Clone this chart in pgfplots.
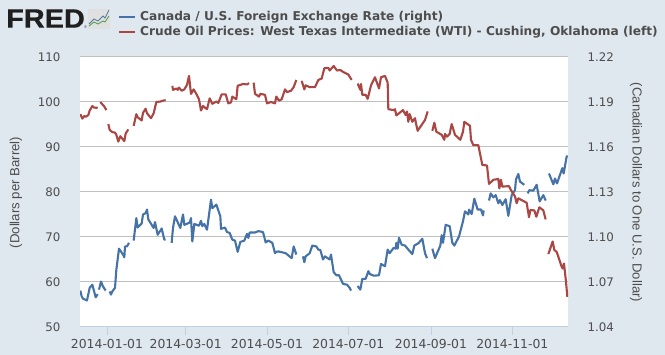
\documentclass[border=0pt]{standalone}
\usepackage{pgfplots}
\pgfplotsset{compat=1.18}
\usepackage{fontspec}
\setmainfont{DejaVu Sans}
\newfontfamily\labfont{Liberation Sans}
\newfontfamily\logofont[FakeBold=0.6]{Liberation Sans Bold}
\definecolor{bg}{HTML}{DFE7EF}
\definecolor{bluel}{HTML}{4572A7}
\definecolor{redl}{HTML}{AA4643}
\definecolor{txt}{HTML}{4D4D4D}
\definecolor{gridc}{HTML}{C0C0C0}
\definecolor{axc}{HTML}{C0D0E0}
\begin{document}
\begin{tikzpicture}[x=1pt,y=1pt]
\useasboundingbox (0,0) rectangle (665,355);
\fill[bg] (0,0) rectangle (665,355);
\begin{scope}[x=1pt,y=-1pt,shift={(0pt,355pt)}]
\node[anchor=west,inner sep=0pt,font=\logofont\fontsize{26.5}{26.5}\selectfont,text=black!88,xscale=1.09] at (6,18.5) {FRED};
\node[anchor=west,inner sep=0pt,font=\labfont\fontsize{4}{4}\selectfont,text=black!70] at (84,27) {®};
\fill[black!12] (88,9) rectangle (110,29);
\draw[bluel!70!gray,line width=0.8pt] (89,24) -- (94,19) -- (98,21) -- (103,16) -- (105,18) -- (109,10);
\draw[green!45!black!70,line width=0.8pt] (89,26) -- (94,22) -- (98,24) -- (103,21) -- (105,22) -- (109,16);
\draw[bluel,line width=2pt] (119,17) -- (135,17);
\draw[redl,line width=2pt] (119,32) -- (135,32);
\node[anchor=base west,inner sep=0pt,text=txt,font=\bfseries\fontsize{12.18}{12}\selectfont] at (140,21) {Canada / U.S. Foreign Exchange Rate (right)};
\node[anchor=base west,inner sep=0pt,text=txt,font=\bfseries\fontsize{12.18}{12}\selectfont] at (140,36) {Crude Oil Prices: West Texas Intermediate (WTI) - Cushing, Oklahoma (left)};
\node[rotate=90,inner sep=0pt,text=txt,font=\labfont\fontsize{13.2}{13}\selectfont] at (16,192.5) {(Dollars per Barrel)};
\node[rotate=-90,inner sep=0pt,text=txt,font=\labfont\fontsize{13.1}{13}\selectfont] at (636,192.5) {(Canadian Dollars to One U.S. Dollar)};
\end{scope}
\begin{axis}[
  at={(80pt,28pt)},anchor=south west,scale only axis,width=488pt,height=270pt,
  xmin=-20.25,xmax=345.75,ymin=1.04,ymax=1.22,
  axis y line*=right,axis x line*=bottom,
  axis background/.style={fill=white},
  ytick={1.04,1.07,1.10,1.13,1.16,1.19,1.22},
  yticklabels={1.04,1.07,1.10,1.13,1.16,1.19,1.22},
  xtick={0,59,120,181,243,304},
  xticklabels={2014-01-01,2014-03-01,2014-05-01,2014-07-01,2014-09-01,2014-11-01},
  tick align=outside,major tick length=8pt,
  ytick style={draw=none},xtick style={draw=axc,line width=1pt},
  x axis line style={draw=axc,line width=1pt,-},
  y axis line style={draw=none,-},
  ymajorgrids,grid style={draw=gridc,line width=1pt},
  yticklabel style={anchor=west,xshift=8pt,text=txt,font=\fontsize{11.8}{12}\selectfont},
  xticklabel style={yshift=-1pt,text=txt,font=\fontsize{12.4}{12}\selectfont},
  unbounded coords=jump,
]
\addplot[bluel,line width=2.1pt,line join=round,no marks] coordinates {
(-20,1.0643)(-19,1.0604)(-18,1.0589)(-15,1.0577)(-13,1.0661)(-11,1.0682)(-10,1.0649)(-8.5,1.0598)(-7,1.0619)(-6.5,nan)
(-6,1.0649)(-4.5,1.0703)(-3,1.067)(-1,1.0643)(0.5,nan)
(2,1.0637)(3,1.0616)(4,1.0637)(6,1.0661)(7,1.0781)(9,1.0922)(12,1.0883)(13,1.0865)(13.5,1.0937)(15,1.0937)(16.5,1.0961)(18,nan)
(20,1.0976)(22,1.1126)(23,1.1063)(26,1.109)(27,1.115)(29,1.1159)(30,1.1183)(31,1.1117)(35,1.106)(36,1.1099)(38,1.1015)(40,1.1042)(41,1.1057)(43,1.0982)(44,1.0982)(46,nan)
(48.5,1.0961)(49.5,1.106)(51,1.1138)(55,1.106)(57,1.115)(58,1.1081)(62,1.1096)(63,1.1126)(64,1.097)(65.5,1.1087)(69,1.1075)(70.5,1.1108)(71.5,1.1072)(73,1.1087)(75,1.1048)(78,1.1249)(79,1.1192)(82,1.1216)(85,1.1138)(85.5,1.1054)(88.5,1.1063)(90,1.1033)(92,1.1027)(94,1.0982)(96,1.0976)(98,1.0901)(100,1.0967)(103,1.0976)(105,1.1021)(106,1.0994)(107,1.103)(111,1.103)(113.5,1.1039)(117,1.1033)(119,1.0964)(121,1.0976)(124,1.0961)(126,1.0892)(127,1.0901)(128.5,1.0904)(134,1.0892)(138.5,1.0859)(140,1.0937)(142,1.0883)(144.5,nan)
(147,1.0871)(148,1.0832)(149,1.0871)(152,1.0892)(154,1.0943)(157,1.0937)(158.5,1.0916)(160,1.0913)(162,1.085)(163.5,1.0871)(167,1.085)(168,1.0883)(170,1.0766)(172,1.0745)(174,1.0745)(177,1.0688)(180,1.0682)(182,1.0661)(183,1.0643)(185,nan)
(188,1.0673)(190,1.0649)(191.5,1.0721)(194,1.0721)(196,1.0772)(197,1.0754)(200,1.0742)(204,1.0745)(205.5,1.082)(208.5,1.0805)(210.5,1.0916)(212,1.0892)(215,1.0928)(216.5,1.0922)(217,1.0961)(218,1.0922)(219,1.0994)(221,1.0949)(223.5,1.0943)(226,1.0916)(229,1.0886)(230.5,1.0943)(233.5,1.0958)(236.5,1.0988)(238.5,1.0892)(240,1.0859)(242,nan)
(244,1.0922)(246,1.0859)(250,1.0943)(251,1.1012)(252,1.0961)(254,1.1081)(257,1.1072)(259,1.0961)(260.5,1.0943)(264,1.1003)(267,1.1105)(268.5,1.1171)(271,1.115)(271.5,1.1183)(273.5,1.1153)(275.5,1.1255)(278,1.1183)(280.5,1.1183)(282,1.1144)(282.5,1.1177)(284.5,nan)
(286.5,1.1243)(287.75,1.1291)(289.75,1.1264)(291.5,1.1279)(293.5,1.1225)(294.75,1.1246)(296.5,1.1213)(299,1.1252)(301,1.1141)(303.5,1.1279)(306,1.1312)(306.75,1.1384)(308.5,1.142)(309.75,1.1369)(313,1.1348)(314.5,nan)
(315.5,1.1291)(316.75,1.1312)(319.75,1.1309)(322.25,1.1348)(324.5,1.1237)(327.25,1.1279)(329,1.1243)(330,nan)
(331.5,1.1423)(334.75,1.1351)(336,1.139)(337.5,1.1357)(341.5,1.1459)(342.5,1.1423)(344.75,1.1537)(345.5,1.154)
};
\end{axis}
\begin{axis}[
  at={(80pt,28pt)},anchor=south west,scale only axis,width=488pt,height=270pt,
  xmin=-20.25,xmax=345.75,ymin=50,ymax=110,
  axis y line*=left,axis x line=none,
  ytick={50,60,70,80,90,100,110},
  yticklabels={50,60,70,80,90,100,110},
  tick align=outside,major tick length=8pt,
  ytick style={draw=none},
  y axis line style={draw=none,-},
  yticklabel style={anchor=east,xshift=-8pt,text=txt,font=\fontsize{11.8}{12}\selectfont},
  unbounded coords=jump,
]
\addplot[redl,line width=2.1pt,line join=round,no marks] coordinates {
(-20,97.3)(-18.5,96.3)(-17,96.9)(-16,96.7)(-14,97.1)(-13,98.1)(-11,99.1)(-10,98.8)(-8,98.7)(-7,98.8)(-6,nan)
(-5,100)(-3,99.3)(-2,99.0)(-0.5,98.2)(0.5,nan)
(1,95.1)(2,93.8)(4,93.3)(6,93.2)(7,92.7)(8.5,91.2)(10,92.4)(13,91.3)(14,93.0)(16,93.9)(18,nan)
(20,94.7)(22,97.3)(23,96.6)(26,95.9)(27,97.6)(29,98.5)(30,97.5)(33,96.4)(35,97.5)(37,100)(40,100.1)(42,100.3)(44,100.4)(46,nan)
(49,103.6)(49.5,102.7)(52,103)(53,102.7)(54,103.2)(56,102.5)(58,102.8)(60,103.8)(61.5,105.8)(63,101.8)(65,102.8)(67,101.8)(69,100.6)(70.5,98.1)(72,99.1)(75,98.4)(77,100.8)(79,99.6)(82,100.1)(83.5,99.8)(86,101.7)(89,101.7)(91,99.7)(93,99.9)(94,101.2)(97,100.6)(98,103.6)(102,104)(105,103.9)(106.5,104.2)(108,nan)
(110,104.3)(111,101.8)(114,101.2)(115,101.8)(118.5,101.6)(120,99.7)(123,100)(126,99.7)(127,101.2)(129,100.3)(131,100.6)(133.5,102.8)(135,102.2)(138,102.5)(140,103.3)(142,104.9)(144,nan)
(146,104.7)(148,102.8)(149,103.7)(152,103.3)(156,103.3)(158.5,104.9)(161,105.2)(163,107.5)(166,107.6)(167,107)(170,108)(172.5,107)(175,107.1)(177,106.7)(181,106.1)(183.5,104.9)(185,nan)
(188,104.1)(190,102.7)(190.5,104)(191.5,101.6)(194,101.6)(195.5,100.7)(198,103.7)(201,105.5)(204,103)(205.5,105.5)(208.5,105.8)(210.5,104.3)(211,98.4)(215,98.2)(216,98.4)(217,97)(222,98.2)(224,97.1)(225,97.9)(226,95.6)(227,97.3)(229,95.6)(231,96.4)(232,94.9)(233,93.6)(238.5,96)(240.5,97.9)(242,nan)
(244,93.6)(245.5,95.4)(247,93.4)(251,92.7)(253,91.6)(253.5,92.9)(255,92.3)(257,92.9)(258.5,95.1)(261,92.7)(265,91.6)(267,93.4)(268,95.6)(272.25,94.7)(273,91.6)(274.75,90.4)(278.5,90.4)(281.5,86)(285,85.9)(286.5,81.8)(289.75,82.7)(293.5,82.9)(294.25,80.8)(295.5,82.7)(296.5,81.2)(301.5,81.3)(303,80.4)(306,79)(307.25,77.5)(308.5,78.6)(311,78.2)(314.75,77.6)(316.5,74.4)(317.5,76)(320.5,75.9)(322,74.5)(324.25,76.6)(327.25,75.9)(329,73.9)(330,nan)
(331,66.2)(334.25,69)(335.5,67.1)(337.25,66.7)(341,63.4)(341.75,63)(342.75,64.1)(344.25,60.1)(345.25,56.7)
};
\end{axis}
\end{tikzpicture}
\end{document}
